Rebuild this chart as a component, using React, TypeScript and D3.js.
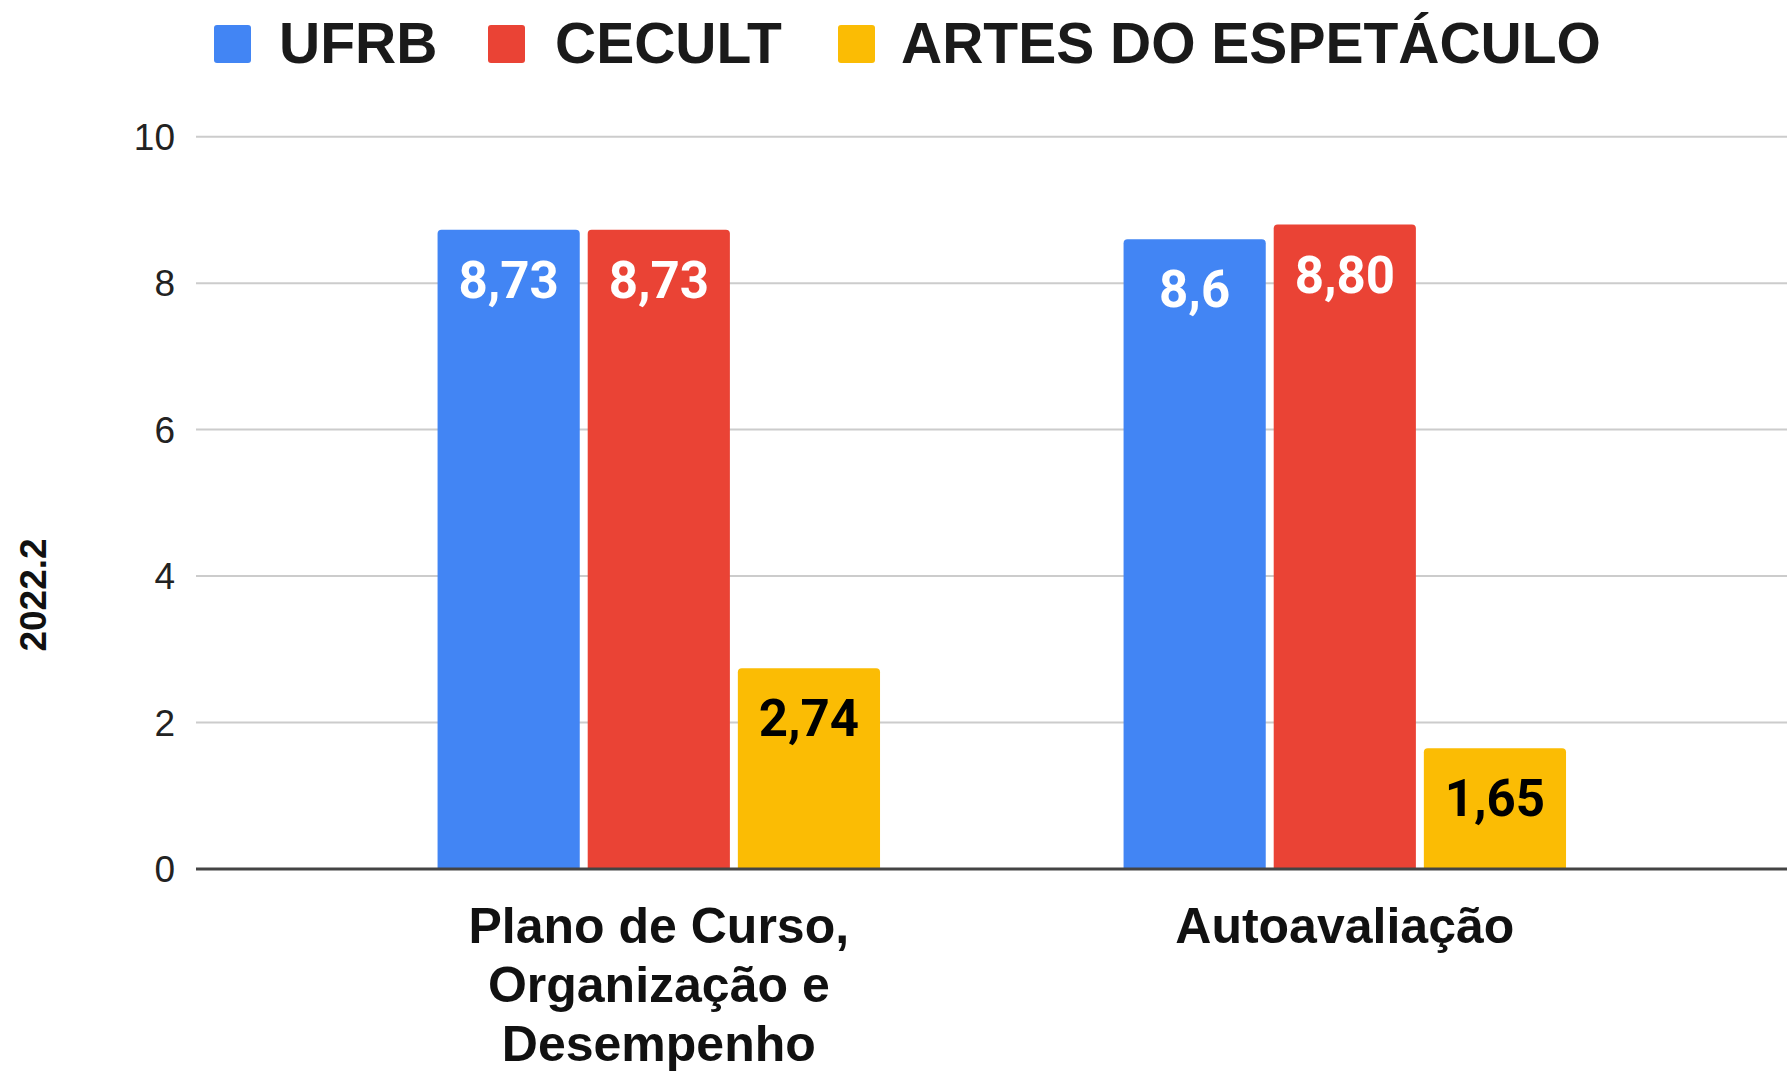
import React from 'react';
import * as d3 from 'd3';

// Chart data
const CATEGORIES = ['Plano de Curso, Organização e Desempenho', 'Autoavaliação'];
const CATEGORY_LINES = [['Plano de Curso,', 'Organização e', 'Desempenho'], ['Autoavaliação']];
const SERIES = ['UFRB', 'CECULT', 'ARTES DO ESPETÁCULO'];
const UFRB = [8.73, 8.6];
const CECULT = [8.73, 8.8];
const ARTES = [2.74, 1.65];
const LABELS = [
  ['8,73', '8,6'],
  ['8,73', '8,80'],
  ['2,74', '1,65'],
];
const Y_TICKS = [0, 2, 4, 6, 8, 10];
const Y_TITLE = '2022.2';

const COLORS = ['#4285f4', '#ea4335', '#fbbc04'];
const LABEL_COLORS = ['#ffffff', '#ffffff', '#000000'];

const WIDTH = 1787;
const HEIGHT = 1072;
const FONT = '"Liberation Sans", Arial, sans-serif';
const LABEL_FONT = 'Roboto, "Noto Sans", sans-serif';

const App: React.FC = () => {
  const values = [UFRB, CECULT, ARTES];

  const y = d3.scaleLinear().domain([0, 10]).range([869, 136.7]);
  const x0 = d3
    .scaleBand<string>()
    .domain(CATEGORIES)
    .range([315.8, 1687.8])
    .paddingInner(0.355)
    .paddingOuter(0.1775);
  const x1 = d3
    .scaleBand<string>()
    .domain(SERIES)
    .range([0, x0.bandwidth()])
    .paddingInner(0.053);

  // Bar with rounded top corners
  const barPath = (x: number, top: number, w: number, bottom: number, r: number) => {
    const p = d3.path();
    p.moveTo(x, bottom);
    p.lineTo(x, top + r);
    p.quadraticCurveTo(x, top, x + r, top);
    p.lineTo(x + w - r, top);
    p.quadraticCurveTo(x + w, top, x + w, top + r);
    p.lineTo(x + w, bottom);
    p.closePath();
    return p.toString();
  };

  const legendItems = [
    { sq: 214, tx: 279 },
    { sq: 488, tx: 555 },
    { sq: 838, tx: 901 },
  ];

  return (
    <svg
      width={WIDTH}
      height={HEIGHT}
      style={{ position: 'absolute', left: 0, top: 0, background: '#fff' }}
      fontFamily={FONT}
    >
      {/* Legend */}
      {SERIES.map((s, i) => (
        <g key={s}>
          <rect x={legendItems[i].sq} y={25} width={37} height={38} rx={3} fill={COLORS[i]} />
          <text
            x={legendItems[i].tx}
            y={63}
            fontSize={57}
            fontWeight="bold"
            fill="#1a1a1a"
          >
            {s}
          </text>
        </g>
      ))}

      {/* Gridlines and y ticks */}
      {Y_TICKS.map((t) => (
        <g key={t}>
          {t !== 0 && (
            <line x1={196} x2={WIDTH} y1={y(t)} y2={y(t)} stroke="#cccccc" strokeWidth={2} />
          )}
          <text
            x={175}
            y={y(t)}
            dy="0.36em"
            textAnchor="end"
            fontSize={37}
            fill="#222222"
          >
            {t}
          </text>
        </g>
      ))}

      {/* Y title */}
      <text
        transform={`translate(46,595) rotate(-90)`}
        textAnchor="middle"
        fontSize={37}
        fontWeight="bold"
        fill="#111"
      >
        {Y_TITLE}
      </text>

      {/* Bars */}
      {CATEGORIES.map((c, ci) => (
        <g key={c} transform={`translate(${x0(c)},0)`}>
          {SERIES.map((s, si) => {
            const v = values[si][ci];
            const bx = x1(s)!;
            const bw = x1.bandwidth();
            return (
              <g key={s}>
                <path d={barPath(bx, y(v), bw, y(0), 4)} fill={COLORS[si]} />
                <text
                  x={bx + bw / 2}
                  y={y(v) + 68}
                  textAnchor="middle"
                  fontFamily={LABEL_FONT}
                  fontSize={51}
                  fontWeight="bold"
                  fill={LABEL_COLORS[si]}
                >
                  {LABELS[si][ci]}
                </text>
              </g>
            );
          })}
        </g>
      ))}

      {/* Baseline */}
      <line x1={196} x2={WIDTH} y1={y(0)} y2={y(0)} stroke="#444444" strokeWidth={3} />

      {/* Category labels */}
      {CATEGORIES.map((c, ci) => (
        <text
          key={c}
          x={x0(c)! + x0.bandwidth() / 2}
          y={943}
          textAnchor="middle"
          fontSize={50}
          fontWeight="bold"
          fill="#111"
        >
          {CATEGORY_LINES[ci].map((line, li) => (
            <tspan key={li} x={x0(c)! + x0.bandwidth() / 2} dy={li === 0 ? 0 : 59}>
              {line}
            </tspan>
          ))}
        </text>
      ))}
    </svg>
  );
};

export default App;
